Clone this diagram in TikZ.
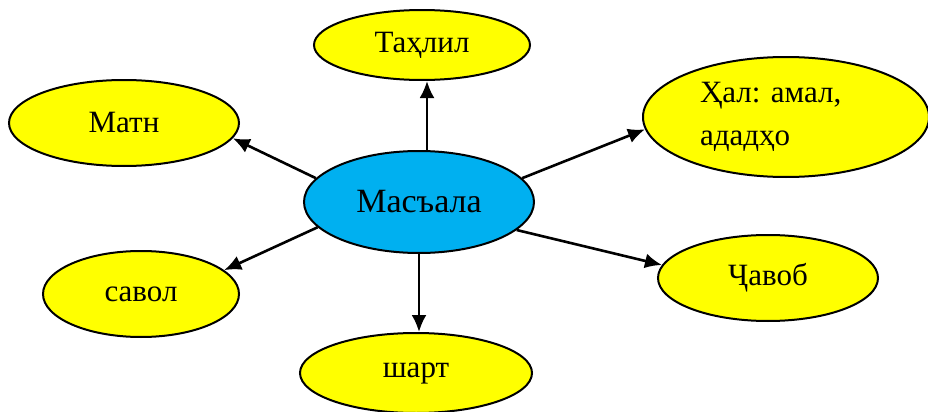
\documentclass[tikz,border=0pt]{standalone}
\usepackage{fontspec}
\setmainfont{Liberation Serif}
\usetikzlibrary{shapes.geometric,arrows.meta}
\definecolor{bubbleyellow}{HTML}{FFFF00}
\definecolor{centreblue}{HTML}{00B0F0}
\frenchspacing
\tikzset{
  bubble/.style={ellipse, draw, line width=1pt, fill=bubbleyellow, inner sep=0pt,
    font=\fontsize{15.5}{21.5}\selectfont},
  link/.style={line width=1.3pt, -{Latex[length=8.5pt,width=7.5pt]}}
}
\begin{document}
\begin{tikzpicture}[x=0.5pt, y=-0.5pt]
    \useasboundingbox (0,0) rectangle (928,412);

    \node[bubble, fill=centreblue, minimum width=115pt, minimum height=51pt,
      font=\fontsize{17}{20}\selectfont] (masala) at (419,202) {Масъала};

    \node[bubble, minimum width=108pt, minimum height=35pt] (tahlil) at (422,45) {Таҳлил};
    \node[bubble, minimum width=143pt, minimum height=60pt, text width=86pt, align=left]
      (hal) at (786,117) {Ҳал: амал,\\ададҳо};
    \node[bubble, minimum width=115pt, minimum height=43pt] (matn) at (124,123) {Матн};
    \node[bubble, minimum width=98pt, minimum height=43pt] (savol) at (141,294) {савол};
    \node[bubble, minimum width=116pt, minimum height=40pt] (shart) at (416,373) {шарт};
    \node[bubble, minimum width=110pt, minimum height=43pt] (javob) at (768,278) {Ҷавоб};

    \draw[link] ([xshift=4pt]masala.north) -- ([xshift=2.5pt]tahlil.south);
    \draw[link] (masala.167) -- (matn.352);
    \draw[link] (masala.13.6) -- (hal.185);
    \draw[link] (masala.194) -- (savol.16);
    \draw[link] (masala.south) -- (masala.south |- shart.north);
    \draw[link] (masala.344.5) -- (javob.173);
\end{tikzpicture}
\end{document}
